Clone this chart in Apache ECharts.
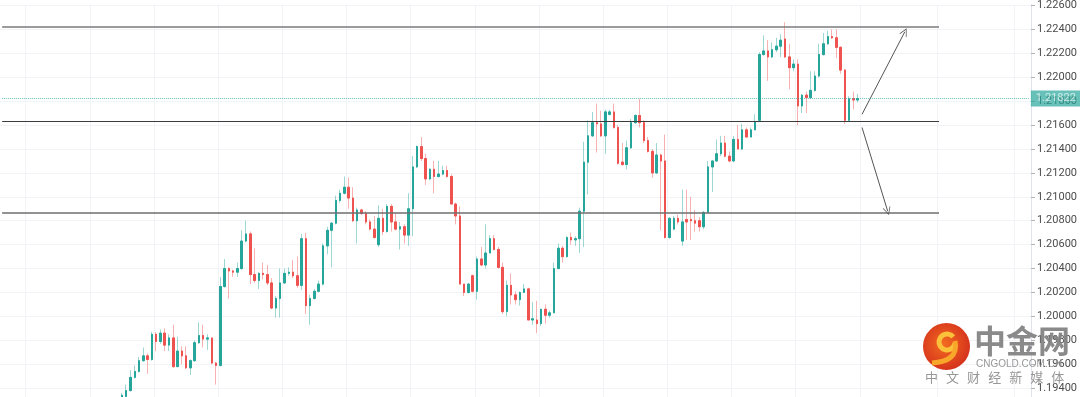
<!DOCTYPE html>
<html>
<head>
<meta charset="utf-8">
<script src="https://cdn.jsdelivr.net/npm/echarts@6/dist/echarts.min.js"></script>
<style>
  html, body { margin: 0; padding: 0; background: #fff; }
  #main { width: 1080px; height: 397px; }
</style>
</head>
<body>
<div id="main"></div>
<script>
// 数据：K线（开、收、低、高），从左到右
var opens = [
  1.1929, 1.1933, 1.1938, 1.1949, 1.1954, 1.1963, 1.1967, 1.1964, 1.1985, 1.1979,
  1.1986, 1.1976, 1.1982, 1.1958, 1.1971, 1.1967, 1.1957, 1.1963, 1.1978, 1.1984,
  1.1981, 1.1982, 1.1961, 1.1959, 1.2025, 1.2040, 1.2038, 1.2037, 1.2040, 1.2063,
  1.2069, 1.2035, 1.2030, 1.2036, 1.2035, 1.2028, 1.2007, 1.2015, 1.2028, 1.2036,
  1.2037, 1.2034, 1.2026, 1.2065, 1.2009, 1.2015, 1.2021, 1.2027, 1.2059, 1.2072,
  1.2078, 1.2097, 1.2103, 1.2108, 1.2099, 1.2080, 1.2089, 1.2086, 1.2079, 1.2073,
  1.2060, 1.2082, 1.2071, 1.2092, 1.2079, 1.2073, 1.2075, 1.2068, 1.2090, 1.2125,
  1.2142, 1.2132, 1.2115, 1.2123, 1.2117, 1.2119, 1.2122, 1.2117, 1.2094, 1.2084,
  1.2027, 1.2020, 1.2034, 1.2021, 1.2048, 1.2043, 1.2053, 1.2065, 1.2056, 1.2041,
  1.2004, 1.2026, 1.2018, 1.2014, 1.2020, 1.2023, 1.1997, 1.1997, 1.1994, 1.2006,
  1.2001, 1.2003, 1.2040, 1.2057, 1.2050, 1.2066, 1.2064, 1.2065, 1.2088, 1.2129,
  1.2151, 1.2162, 1.2161, 1.2151, 1.2169, 1.2171, 1.2158, 1.2129, 1.2127, 1.2141,
  1.2162, 1.2168, 1.2162, 1.2147, 1.2138, 1.2120, 1.2135, 1.2130, 1.2066, 1.2073,
  1.2082, 1.2063, 1.2081, 1.2081, 1.2080, 1.2080, 1.2075, 1.2087, 1.2125, 1.2130,
  1.2136, 1.2145, 1.2134, 1.2130, 1.2148, 1.2140, 1.2156, 1.2150, 1.2156, 1.2164,
  1.2219, 1.2222, 1.2217, 1.2223, 1.2226, 1.2232, 1.2217, 1.2208, 1.2211, 1.2176,
  1.2185, 1.2183, 1.2189, 1.2201, 1.2219, 1.2228, 1.2234, 1.2233, 1.2225, 1.2206,
  1.2164, 1.2182, 1.2181
];
var closes = [
  1.1934, 1.1938, 1.1949, 1.1954, 1.1963, 1.1967, 1.1964, 1.1985, 1.1979, 1.1986,
  1.1976, 1.1982, 1.1958, 1.1971, 1.1967, 1.1957, 1.1963, 1.1978, 1.1984, 1.1981,
  1.1982, 1.1961, 1.1959, 1.2025, 1.2040, 1.2038, 1.2037, 1.2040, 1.2063, 1.2069,
  1.2035, 1.2030, 1.2036, 1.2035, 1.2028, 1.2007, 1.2015, 1.2028, 1.2036, 1.2037,
  1.2034, 1.2026, 1.2065, 1.2009, 1.2015, 1.2021, 1.2027, 1.2059, 1.2072, 1.2078,
  1.2097, 1.2103, 1.2108, 1.2099, 1.2080, 1.2089, 1.2086, 1.2079, 1.2073, 1.2066,
  1.2082, 1.2071, 1.2092, 1.2079, 1.2073, 1.2075, 1.2068, 1.2090, 1.2125, 1.2142,
  1.2132, 1.2115, 1.2123, 1.2117, 1.2119, 1.2122, 1.2117, 1.2094, 1.2084, 1.2027,
  1.2020, 1.2027, 1.2021, 1.2048, 1.2043, 1.2053, 1.2065, 1.2056, 1.2041, 1.2004,
  1.2026, 1.2018, 1.2014, 1.2020, 1.2023, 1.1997, 1.1998, 1.1994, 1.2006, 1.2001,
  1.2003, 1.2040, 1.2057, 1.2050, 1.2066, 1.2064, 1.2065, 1.2088, 1.2129, 1.2151,
  1.2162, 1.2161, 1.2151, 1.2171, 1.2171, 1.2158, 1.2128, 1.2127, 1.2141, 1.2162,
  1.2168, 1.2162, 1.2147, 1.2138, 1.2120, 1.2135, 1.2130, 1.2066, 1.2082, 1.2082,
  1.2079, 1.2079, 1.2079, 1.2080, 1.2078, 1.2075, 1.2087, 1.2125, 1.2130, 1.2136,
  1.2145, 1.2134, 1.2130, 1.2148, 1.2140, 1.2156, 1.2150, 1.2156, 1.2163, 1.2219,
  1.2222, 1.2217, 1.2223, 1.2226, 1.2231, 1.2217, 1.2208, 1.2211, 1.2176, 1.2185,
  1.2183, 1.2189, 1.2201, 1.2219, 1.2228, 1.2234, 1.2233, 1.2225, 1.2206, 1.2164,
  1.2182, 1.2181, 1.21822
];
var lows = [
  1.1926, 1.1931, 1.1937, 1.1948, 1.1953, 1.1962, 1.1952, 1.1963, 1.1971, 1.1977,
  1.1971, 1.1971, 1.1957, 1.1958, 1.1960, 1.1956, 1.1951, 1.1962, 1.1977, 1.1974,
  1.1972, 1.1960, 1.1943, 1.1958, 1.2024, 1.2015, 1.2033, 1.2033, 1.2039, 1.2062,
  1.2027, 1.2028, 1.2023, 1.2031, 1.2026, 1.2006, 1.1999, 1.1999, 1.2027, 1.2034,
  1.2032, 1.2024, 1.2022, 1.2002, 1.1993, 1.2014, 1.2020, 1.2026, 1.2052, 1.2041,
  1.2077, 1.2095, 1.2102, 1.2090, 1.2079, 1.2061, 1.2085, 1.2077, 1.2072, 1.2065,
  1.2058, 1.2068, 1.2070, 1.2071, 1.2072, 1.2056, 1.2061, 1.2059, 1.2067, 1.2124,
  1.2130, 1.2110, 1.2114, 1.2103, 1.2116, 1.2118, 1.2116, 1.2094, 1.2077, 1.2027,
  1.2017, 1.2019, 1.2020, 1.2014, 1.2042, 1.2040, 1.2053, 1.2055, 1.2040, 1.2002,
  1.2000, 1.2010, 1.2010, 1.2009, 1.2020, 1.1997, 1.1993, 1.1986, 1.1992, 1.1994,
  1.1999, 1.2003, 1.2040, 1.2045, 1.2049, 1.2060, 1.2059, 1.2053, 1.2058, 1.2102,
  1.2150, 1.2137, 1.2150, 1.2136, 1.2168, 1.2157, 1.2127, 1.2126, 1.2123, 1.2140,
  1.2161, 1.2158, 1.2145, 1.2137, 1.2116, 1.2119, 1.2072, 1.2065, 1.2065, 1.2072,
  1.2077, 1.2059, 1.2064, 1.2064, 1.2071, 1.2071, 1.2073, 1.2086, 1.2104, 1.2129,
  1.2134, 1.2133, 1.2129, 1.2129, 1.2140, 1.2139, 1.2150, 1.2150, 1.2156, 1.2163,
  1.2218, 1.2197, 1.2216, 1.2221, 1.2217, 1.2216, 1.2190, 1.2205, 1.2160, 1.2170,
  1.2170, 1.2182, 1.2188, 1.2200, 1.2218, 1.2227, 1.2232, 1.2216, 1.2203, 1.2161,
  1.2163, 1.2173, 1.2179
];
var highs = [
  1.1936, 1.1943, 1.1955, 1.1959, 1.1966, 1.1974, 1.1969, 1.1987, 1.1987, 1.1989,
  1.1990, 1.1985, 1.1993, 1.1983, 1.1975, 1.1975, 1.1964, 1.1980, 1.1995, 1.1993,
  1.1985, 1.1982, 1.1962, 1.2033, 1.2048, 1.2041, 1.2039, 1.2045, 1.2072, 1.2080,
  1.2071, 1.2057, 1.2037, 1.2045, 1.2043, 1.2032, 1.2017, 1.2040, 1.2040, 1.2041,
  1.2047, 1.2050, 1.2069, 1.2070, 1.2018, 1.2023, 1.2030, 1.2061, 1.2075, 1.2079,
  1.2101, 1.2106, 1.2117, 1.2116, 1.2108, 1.2091, 1.2090, 1.2088, 1.2081, 1.2084,
  1.2093, 1.2090, 1.2094, 1.2094, 1.2086, 1.2079, 1.2077, 1.2103, 1.2134, 1.2143,
  1.2150, 1.2136, 1.2124, 1.2130, 1.2130, 1.2126, 1.2126, 1.2119, 1.2095, 1.2092,
  1.2027, 1.2028, 1.2035, 1.2050, 1.2058, 1.2077, 1.2068, 1.2068, 1.2058, 1.2045,
  1.2030, 1.2036, 1.2021, 1.2021, 1.2027, 1.2024, 1.2012, 1.2013, 1.2006, 1.2010,
  1.2005, 1.2045, 1.2061, 1.2059, 1.2067, 1.2070, 1.2067, 1.2091, 1.2146, 1.2164,
  1.2171, 1.2178, 1.2172, 1.2173, 1.2173, 1.2178, 1.2160, 1.2145, 1.2147, 1.2165,
  1.2169, 1.2182, 1.2164, 1.2150, 1.2140, 1.2145, 1.2136, 1.2152, 1.2083, 1.2084,
  1.2085, 1.2106, 1.2106, 1.2100, 1.2089, 1.2083, 1.2088, 1.2130, 1.2130, 1.2148,
  1.2151, 1.2151, 1.2138, 1.2151, 1.2160, 1.2161, 1.2158, 1.2158, 1.2169, 1.2221,
  1.2235, 1.2231, 1.2229, 1.2233, 1.2236, 1.2246, 1.2228, 1.2215, 1.2215, 1.2186,
  1.2188, 1.2205, 1.2205, 1.2228, 1.2237, 1.2239, 1.2240, 1.2240, 1.2226, 1.2207,
  1.2184, 1.2188, 1.2186
];

// 价格刻度
var yTicks = [
  1.194, 1.196, 1.198, 1.200, 1.202, 1.204, 1.206, 1.208,
  1.210, 1.212, 1.214, 1.216, 1.218, 1.220, 1.222, 1.224, 1.226
];

// 水平位与当前价
var resistance = 1.2242;
var pivot = 1.2163;
var support = 1.20863;
var lastPrice = 1.21822;

// 类目轴：前面留空 28 根、后面留空到右侧
var totalBars = 241;
var leadBars = 28;
var gridLines = [6, 21, 36, 51, 66, 81, 96, 111, 126, 141, 156, 171, 186, 201, 219, 237];

var upColor = '#26a69a';
var downColor = '#ef5350';

var categories = [];
var fullData = [];
var bodyData = [];
for (var i = 0; i < totalBars; i++) {
  categories.push(String(i));
  var k = i - leadBars;
  if (k >= 0 && k < opens.length) {
    fullData.push([opens[k], closes[k], lows[k], highs[k]]);
    bodyData.push([opens[k], closes[k], Math.min(opens[k], closes[k]), Math.max(opens[k], closes[k])]);
  } else {
    fullData.push('-');
    bodyData.push('-');
  }
}
var lastIdx = leadBars + opens.length - 1;

var myChart = echarts.init(document.getElementById('main'));

var vArrow = 'path://M0,10 L5,0 L10,10 L9,10 L5,2 L1,10 Z';

var option = {
  backgroundColor: '#ffffff',
  animation: false,
  grid: { left: 0, right: 48, top: 0, bottom: 0 },
  xAxis: {
    type: 'category',
    data: categories,
    boundaryGap: true,
    axisLine: { show: false },
    axisTick: { show: false },
    axisLabel: { show: false },
    splitLine: {
      show: true,
      interval: function (idx) { return gridLines.indexOf(idx) >= 0; },
      lineStyle: { color: '#f2f3f6', width: 1 }
    }
  },
  yAxis: {
    type: 'value',
    position: 'right',
    min: 1.19326,
    max: 1.22607,
    axisLine: { show: true, lineStyle: { color: '#e0e3eb' } },
    axisTick: { show: true, length: 4, customValues: yTicks, lineStyle: { color: '#b2b5be' } },
    axisLabel: {
      margin: 6,
      color: '#4c4c4c',
      fontSize: 11,
      fontFamily: 'Roboto, sans-serif',
      customValues: yTicks,
      formatter: function (v) { return v.toFixed(5); }
    },
    splitLine: { show: true, lineStyle: { color: '#f2f3f6', width: 1 } }
  },
  series: [
    {
      // 影线（浅色）
      name: 'wick',
      type: 'candlestick',
      data: fullData,
      barWidth: 2,
      itemStyle: {
        color: 'rgba(38,166,154,0.45)',
        color0: 'rgba(239,83,80,0.45)',
        borderColor: 'rgba(38,166,154,0.45)',
        borderColor0: 'rgba(239,83,80,0.45)',
        borderWidth: 1
      },
      markLine: {
        silent: true,
        symbol: ['none', 'none'],
        label: { show: false },
        data: [
          [{ coord: [0, resistance], lineStyle: { color: '#7a7a7a', width: 1.5, type: 'solid' } },
           { coord: [219, resistance] }],
          [{ coord: [0, pivot], lineStyle: { color: '#3c3c3c', width: 1.2, type: 'solid' } },
           { coord: [219, pivot] }],
          [{ coord: [0, support], lineStyle: { color: '#6e6e6e', width: 1.5, type: 'solid' } },
           { coord: [219, support] }]
        ]
      }
    },
    {
      // 实体
      name: 'body',
      type: 'candlestick',
      data: bodyData,
      barWidth: 2,
      itemStyle: {
        color: upColor,
        color0: downColor,
        borderColor: upColor,
        borderColor0: downColor,
        borderWidth: 1
      }
    },
    {
      // 箭头与当前价
      name: 'arrows',
      type: 'line',
      data: [],
      markLine: {
        silent: true,
        symbol: ['none', vArrow],
        symbolSize: [8, 8],
        label: { show: false },
        lineStyle: { color: '#555555', width: 1, type: 'solid' },
        data: [
          [{ coord: [lastIdx + 1, 1.2169] }, { coord: [lastIdx + 11, 1.2238] }],
          [{ coord: [lastIdx + 1, 1.2158] }, { coord: [lastIdx + 7, 1.2088] }],
          [
            {
              coord: [0, lastPrice],
              symbol: 'none',
              lineStyle: { color: '#26a69a', type: 'dotted', width: 1, opacity: 0.7 },
              label: {
                show: true,
                position: 'end',
                distance: 2,
                formatter: function () { return lastPrice.toFixed(5); },
                color: '#ffffff',
                fontSize: 11,
                fontFamily: 'Roboto, sans-serif',
                backgroundColor: '#26a69a',
                padding: [3, 5, 2, 5]
              }
            },
            { coord: [totalBars - 1, lastPrice], symbol: 'none' }
          ]
        ]
      }
    }
  ],
  graphic: [
    {
      type: 'circle',
      shape: { cx: 946.5, cy: 346.5, r: 23.5 },
      style: {
        fill: new echarts.graphic.RadialGradient(0.45, 0.45, 0.6, [
          { offset: 0, color: '#f36b21' },
          { offset: 1, color: '#d32f1b' }
        ])
      },
      z: 100
    },
    {
      type: 'arc',
      shape: { cx: 947, cy: 342, r: 8, startAngle: 0.2, endAngle: 5.6 },
      style: { stroke: '#fbc13a', lineWidth: 5, fill: null },
      z: 101
    },
    {
      type: 'bezierCurve',
      shape: { x1: 955, y1: 341, cpx1: 958, cpy1: 356, cpx2: 948, cpy2: 362, x2: 932, y2: 363 },
      style: { stroke: '#f9a72a', lineWidth: 5, fill: null },
      z: 101
    },
    {
      type: 'text',
      left: 974,
      top: 325,
      style: {
        text: '中金网',
        fill: 'rgba(128,128,128,0.92)',
        font: 'bold 32px "Noto Sans CJK SC", sans-serif'
      },
      z: 100
    },
    {
      type: 'text',
      left: 976,
      top: 359,
      style: {
        text: 'CNGOLD.COM.CN',
        fill: 'rgba(140,140,140,0.9)',
        font: '10px "Liberation Sans", Arial, sans-serif'
      },
      z: 100
    }
  ].concat('中文财经新媒体'.split('').map(function (ch, i) {
    return {
      type: 'text',
      x: 925 + i * 21.05,
      y: 371,
      style: {
        text: ch,
        fill: 'rgba(140,140,140,0.9)',
        font: '13px "Noto Sans CJK SC", sans-serif'
      },
      z: 100
    };
  }))
};

myChart.setOption(option);
</script>
</body>
</html>
